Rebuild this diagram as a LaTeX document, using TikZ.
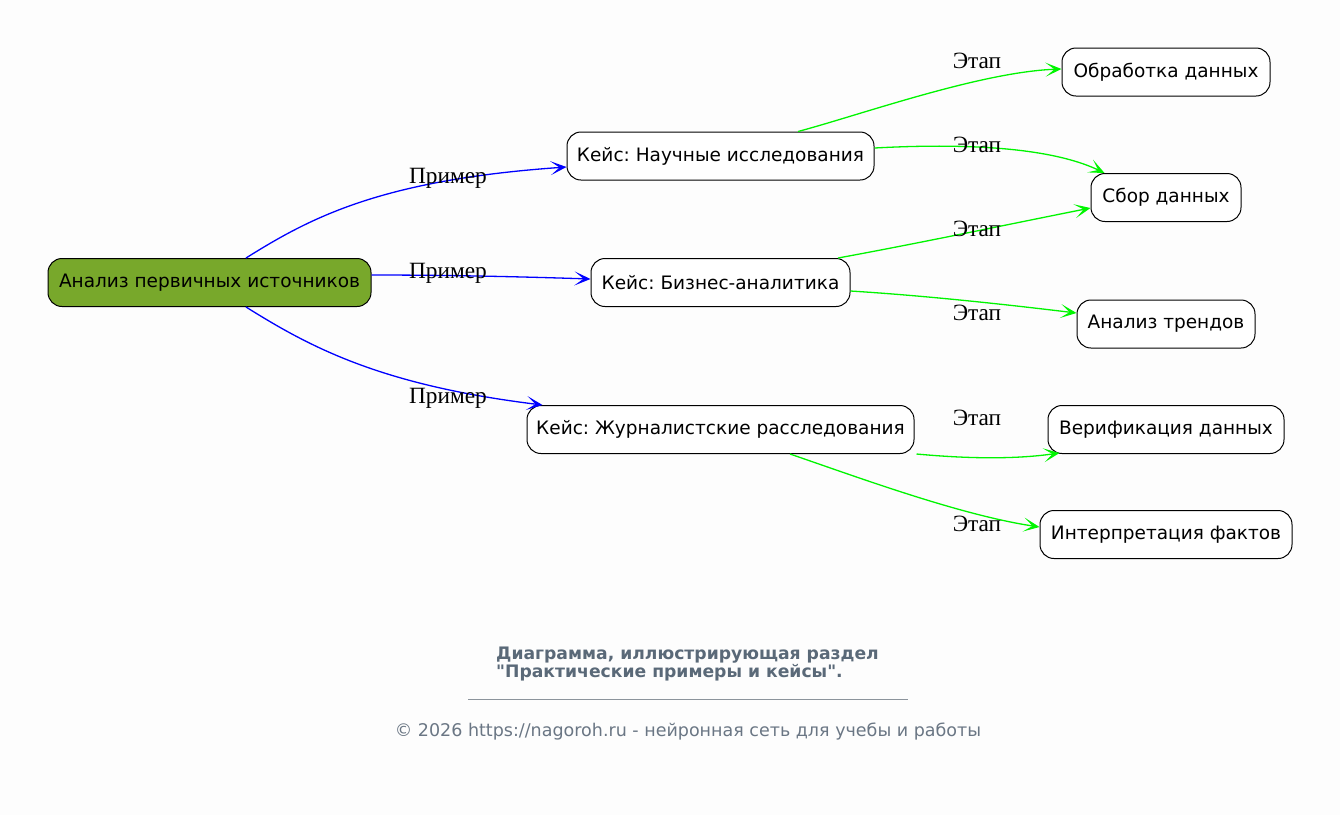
\documentclass[tikz,border=0pt]{standalone}
\usepackage{fontspec}
\setmainfont{DejaVu Sans}
\newfontfamily\lblfont{Liberation Serif}
\usetikzlibrary{arrows.meta,calc}
\frenchspacing
\newcommand\plainquote{\XeTeXglyph\XeTeXcharglyph"22\relax}
\definecolor{bgc}{RGB}{253,253,253}
\definecolor{rootc}{RGB}{120,168,43}
\definecolor{titlec}{RGB}{90,105,120}
\definecolor{copyc}{RGB}{106,118,132}
\definecolor{rulec}{RGB}{140,148,156}
\definecolor{bluec}{RGB}{0,0,255}
\definecolor{greenc}{RGB}{0,245,0}
\tikzset{
  box/.style={draw=black, line width=1pt, rounded corners=14pt, fill=white, minimum height=48pt, inner sep=0pt, font=\fontsize{18.5}{22}\selectfont, text=black},
  rootbox/.style={box, fill=rootc},
  tipv/.style={-{Stealth[length=16pt,width=14pt,inset=9pt]}},
  bedge/.style={draw=bluec, line width=1.3pt, tipv},
  gedge/.style={draw=greenc, line width=1.3pt, tipv},
  elabel/.style={font=\lblfont\fontsize{23.3}{24}\selectfont, text=black, inner sep=0pt}
}
\begin{document}
\begin{tikzpicture}[x=1pt,y=-1pt]
\fill[bgc] (0,0) rectangle (1340,815);
\useasboundingbox (0,0) rectangle (1340,815);
% nodes
\node[rootbox, minimum width=323pt] (root) at (209.5,282.5) {Анализ первичных источников};
\node[box, minimum width=307pt] (n1) at (720.5,156) {Кейс: Научные исследования};
\node[box, minimum width=259pt] (n2) at (720.5,282.5) {Кейс: Бизнес-аналитика};
\node[box, minimum width=387pt] (n3) at (720.5,429.5) {Кейс: Журналистские расследования};
\node[box, minimum width=208pt] (s1) at (1166,72) {Обработка данных};
\node[box, minimum width=150pt] (s2) at (1166,197.5) {Сбор данных};
\node[box, minimum width=178pt] (s3) at (1166,324) {Анализ трендов};
\node[box, minimum width=236pt] (s4) at (1166,429.5) {Верификация данных};
\node[box, minimum width=252pt] (s5) at (1166,534.5) {Интерпретация фактов};
% blue edges
\draw[bedge] ($(root.north)+(36.5,0)$) .. controls (310,218) and (380,180) .. ($(n1.west)+(0,11)$);
\draw[bedge] ($(root.east)+(0,-7.5)$) .. controls (430,275) and (500,276) .. ($(n2.west)+(0,-3.5)$);
\draw[bedge] ($(root.south)+(36.5,0)$) .. controls (310,347) and (380,385) .. ($(n3.north west)+(16,0)$);
% green edges
\draw[gedge] ($(n1.north)+(77.5,0)$) .. controls (860,115) and (980,72) .. ($(s1.west)+(0,-3)$);
\draw[gedge] ($(n1.east)+(0,-8)$) .. controls (930,145) and (1040,142) .. ($(s2.north west)+(14,0)$);
\draw[gedge] ($(n2.north)+(117.5,0)$) .. controls (920,243) and (1010,224) .. ($(s2.west)+(0,10.5)$);
\draw[gedge] ($(n2.east)+(0,8.5)$) .. controls (930,296) and (1010,305) .. ($(s3.west)+(0,-11)$);
\coordinate (n3out) at ($(n3.south east)+(2,0)$);
\draw[gedge] (n3out) .. controls (960,458) and (1010,460) .. ($(s4.south west)+(12,-1)$);
\draw[gedge] ($(n3.south)+(69.5,0)$) .. controls (860,478) and (960,515) .. ($(s5.west)+(0,-7.5)$);
% edge labels
\node[elabel] (lp1) at (448,178) {Пример};
\node[elabel] (lp2) at (448,273) {Пример};
\node[elabel] (lp3) at (448,398) {Пример};
\node[elabel] (le1) at (977,61) {Этап};
\node[elabel] (le2) at (977,145) {Этап};
\node[elabel] (le3) at (977,229) {Этап};
\node[elabel] (le4) at (977,313) {Этап};
\node[elabel] (le5) at (977,418) {Этап};
\node[elabel] (le6) at (977,524) {Этап};
% footer
\node[anchor=west, inner sep=0pt, text=titlec, font=\bfseries\fontsize{17.2}{18.5}\selectfont, align=left] (title) at (496,664) {Диаграмма, иллюстрирующая раздел\\\plainquote Практические примеры и кейсы\plainquote.};
\coordinate (ruleA) at (468,699);
\coordinate (ruleB) at (908,699);
\draw[rulec, line width=0.8pt] (ruleA) -- (ruleB);
\node[inner sep=0pt, text=copyc, font=\fontsize{17.5}{19}\selectfont] (copy) at (688,732) {© 2026 https://nagoroh.ru - нейронная сеть для учебы и работы};
\end{tikzpicture}
\end{document}
